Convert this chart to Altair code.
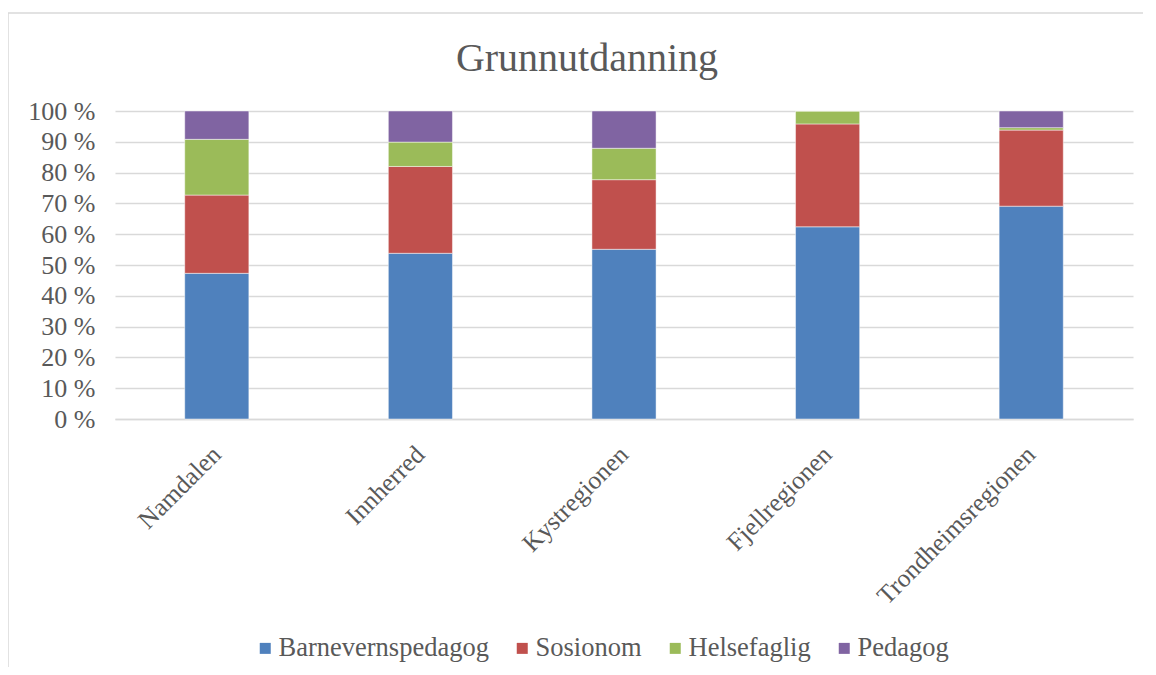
import altair as alt
import pandas as pd

regions = ["Namdalen", "Innherred", "Kystregionen", "Fjellregionen", "Trondheimsregionen"]
series = ["Barnevernspedagog", "Sosionom", "Helsefaglig", "Pedagog"]
barnevernspedagog = [47.3, 53.8, 55.1, 62.4, 69.1]
sosionom = [25.4, 28.2, 22.6, 33.4, 24.7]
helsefaglig = [18.1, 7.9, 10.2, 4.2, 0.8]
pedagog = [9.2, 10.1, 12.1, 0.0, 5.4]
colors = ["#4F81BD", "#C0504D", "#9BBB59", "#8064A2"]
y_ticks = [0, 10, 20, 30, 40, 50, 60, 70, 80, 90, 100]

rows = []
for si, (name, vals) in enumerate(zip(series, [barnevernspedagog, sosionom, helsefaglig, pedagog])):
    for r, v in zip(regions, vals):
        rows.append({"Region": r, "Serie": name, "Andel": v, "Rekkefolge": si})
df = pd.DataFrame(rows)

FONT = "Liberation Serif"
GREY = "#595959"
W, H = 1018, 308

bars = alt.Chart(df).mark_bar(stroke="white", strokeWidth=0.8, strokeOpacity=0.6).encode(
    x=alt.X("Region:N", sort=regions, title=None,
            scale=alt.Scale(paddingInner=0.685, paddingOuter=0.3425),
            axis=alt.Axis(labelAngle=-45, labelAlign="right", labelBaseline="middle",
                          labelPadding=31, labelLimit=0, ticks=False, domain=True, domainColor="#D9D9D9",
                          domainWidth=1.5, labelFont=FONT, labelFontSize=25.5, labelColor=GREY)),
    y=alt.Y("Andel:Q", stack="zero", title=None,
            scale=alt.Scale(domain=[0, 100], nice=False),
            axis=alt.Axis(values=y_ticks, labelExpr="datum.value + ' %'", ticks=False, domain=False,
                          grid=True, gridColor="#D9D9D9", gridWidth=1.5, labelPadding=20,
                          labelFont=FONT, labelFontSize=26, labelColor=GREY)),
    color=alt.Color("Serie:N", sort=series, title=None,
                    scale=alt.Scale(domain=series, range=colors),
                    legend=alt.Legend(orient="none", direction="horizontal", legendX=137, legendY=524,
                                      symbolType="square", symbolSize=121, symbolStrokeWidth=0,
                                      labelFont=FONT, labelFontSize=26.5, labelColor=GREY, labelLimit=0,
                                      labelOffset=0, columnPadding=20)),
    order=alt.Order("Rekkefolge:Q"),
)

frame = alt.Chart(pd.DataFrame({"f": [0]})).mark_rect(fill=None, stroke="#D9D9D9", strokeWidth=1.5).encode(
    x=alt.value(-107), x2=alt.value(W + 60), y=alt.value(-98), y2=alt.value(H + 300)
)

chart = alt.layer(frame, bars).properties(
    width=W, height=H,
    autosize=alt.AutoSizeParams(type="none"),
    padding={"left": 107, "top": 103, "right": 10, "bottom": 248},
    title=alt.TitleParams("Grunnutdanning", font=FONT, fontSize=40, fontWeight="normal",
                          color=GREY, anchor="middle", dx=-37, dy=99, offset=0, baseline="alphabetic"),
).configure_view(stroke=None)

chart.save("out.html", embed_options={"renderer": "svg", "actions": False})
